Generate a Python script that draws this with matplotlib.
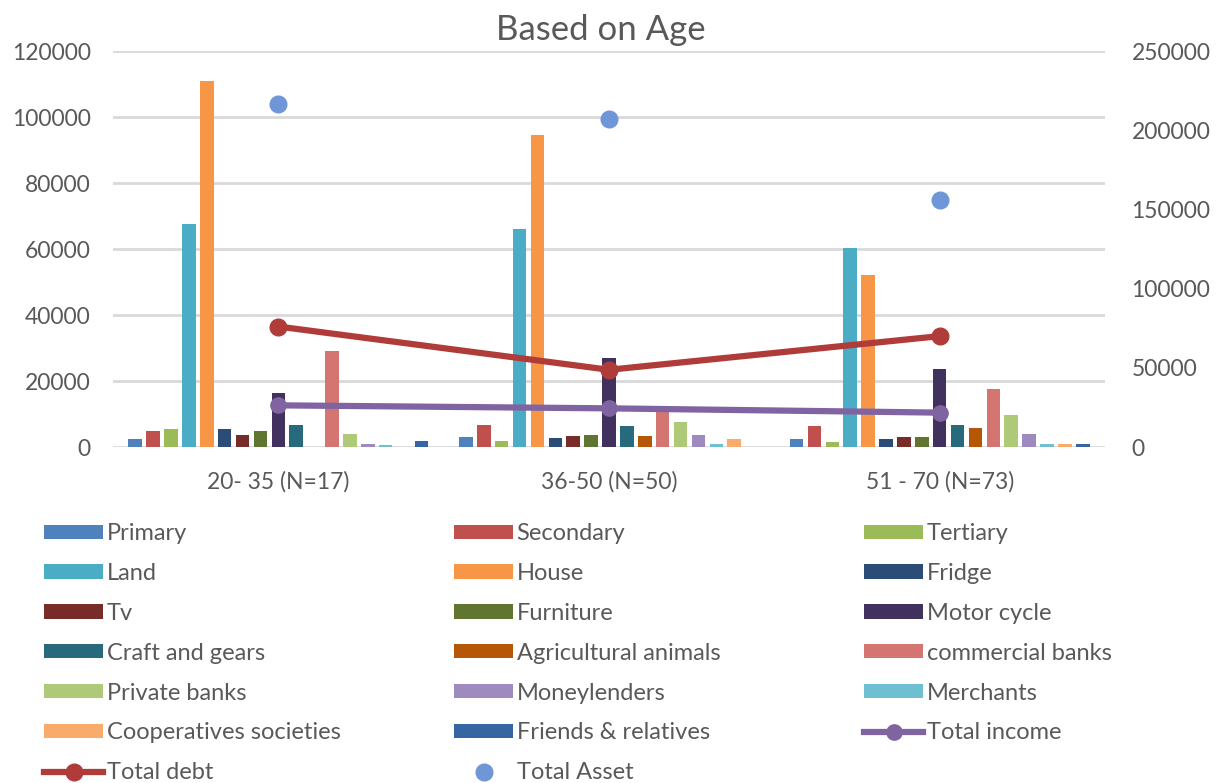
import matplotlib
matplotlib.use("Agg")
import matplotlib.pyplot as plt
import numpy as np
from matplotlib.lines import Line2D
from matplotlib.patches import Patch

plt.rcParams['font.family'] = ['Lato', 'DejaVu Sans']

# Age groups
categories = ["20- 35 (N=17)", "36-50 (N=50)", "51 - 70 (N=73)"]

# Column series (left axis)
primary = [2500, 2900, 2400]
secondary = [5000, 6700, 6300]
tertiary = [5500, 1900, 1400]
land = [67600, 66000, 60300]
house = [111000, 94500, 52100]
fridge = [5500, 2800, 2400]
tv = [3600, 3300, 2900]
furniture = [4900, 3700, 2900]
motor_cycle = [16300, 26900, 23500]
craft_and_gears = [6700, 6300, 6700]
agricultural_animals = [0, 3200, 5800]
commercial_banks = [29100, 11000, 17600]
private_banks = [4000, 7500, 9600]
moneylenders = [800, 3700, 4000]
merchants = [600, 800, 800]
cooperatives_societies = [0, 2400, 800]
friends_relatives = [1900, 0, 900]

# Totals
total_debt = [36500, 23400, 33600]          # left axis
total_income = [26300, 24400, 21700]        # right axis
total_asset = [216300, 207000, 156000]      # right axis

left_ticks = [0, 20000, 40000, 60000, 80000, 100000, 120000]
right_ticks = [0, 50000, 100000, 150000, 200000, 250000]

bar_series = [
    ("Primary", primary, "#4F81BD"),
    ("Secondary", secondary, "#C0504D"),
    ("Tertiary", tertiary, "#9BBB59"),
    ("Land", land, "#4BACC6"),
    ("House", house, "#F79646"),
    ("Fridge", fridge, "#2A4C77"),
    ("Tv", tv, "#772C2A"),
    ("Furniture", furniture, "#5F7530"),
    ("Motor cycle", motor_cycle, "#40315E"),
    ("Craft and gears", craft_and_gears, "#276A7C"),
    ("Agricultural animals", agricultural_animals, "#B65708"),
    ("commercial banks", commercial_banks, "#D47572"),
    ("Private banks", private_banks, "#AECA78"),
    ("Moneylenders", moneylenders, "#9F8AC0"),
    ("Merchants", merchants, "#6FBFD3"),
    ("Cooperatives societies", cooperatives_societies, "#F9AB6B"),
    ("Friends & relatives", friends_relatives, "#3565A3"),
]

debt_color = "#B03C3A"
income_color = "#8064A2"
asset_color = "#6F96D6"
text_color = "#595959"
grid_color = "#D9D9D9"

W, H = 1223, 783
fig = plt.figure(figsize=(W / 100, H / 100), dpi=100)
ax = fig.add_axes([113 / W, 1 - 447 / H, (1105 - 113) / W, (447 - 51) / H])
ax2 = ax.twinx()

x = np.arange(len(categories))
n = len(bar_series)
slot = 0.0541
width = 0.0408
handles = []
for i, (name, vals, col) in enumerate(bar_series):
    ax.bar(x + (i - (n - 1) / 2) * slot, vals, width=width, color=col, zorder=2)
    handles.append(Patch(facecolor=col, edgecolor='none', label=name))

ax.plot(x, total_debt, color=debt_color, lw=4.5, marker='o', ms=12,
        solid_capstyle='round', zorder=5)
ax2.plot(x, total_income, color=income_color, lw=4.5, marker='o', ms=11,
         solid_capstyle='round', zorder=5)
ax2.plot(x, total_asset, linestyle='none', marker='o', ms=12,
         color=asset_color, zorder=6)

ax.set_xlim(-0.5, 2.5)
ax.set_ylim(0, 120000)
ax2.set_ylim(0, 250000)
ax.set_yticks(left_ticks)
ax2.set_yticks(right_ticks)
ax.set_xticks(x)
ax.set_xticklabels(categories)

ax.grid(axis='y', color=grid_color, lw=2, zorder=0)
ax.set_axisbelow(True)
for a in (ax, ax2):
    for s in a.spines.values():
        s.set_visible(False)
    a.tick_params(length=0, labelcolor=text_color, labelsize=16.5)
ax.tick_params(axis='x', pad=17)
ax.tick_params(axis='y', pad=16)
ax2.tick_params(axis='y', pad=19)

fig.text(601 / W, 1 - 30 / H, "Based on Age", ha='center', va='center',
         fontsize=25, color=text_color)

debt_handle = Line2D([], [], color=debt_color, lw=4.5, marker='o', ms=12,
                     label="Total debt")
asset_handle = Line2D([], [], color=asset_color, lw=0, marker='o', ms=12,
                      label="Total Asset")
income_handle = Line2D([], [], color=income_color, lw=4.5, marker='o', ms=11,
                       label="Total income")
all_handles = handles + [income_handle, debt_handle, asset_handle]

# three legend columns, filled row by row
col_x = [44, 454, 864]
for c in range(3):
    hs = all_handles[c::3]
    leg = fig.legend(handles=hs, loc='upper left',
                     bbox_to_anchor=(col_x[c] / W, 1 - 523 / H),
                     frameon=False, fontsize=17, handlelength=2.5,
                     handleheight=0.55, handletextpad=0.15, labelspacing=0.8,
                     borderpad=0, borderaxespad=0)
    for t in leg.get_texts():
        t.set_color(text_color)

fig.savefig("out.png", dpi=100, facecolor='white')
